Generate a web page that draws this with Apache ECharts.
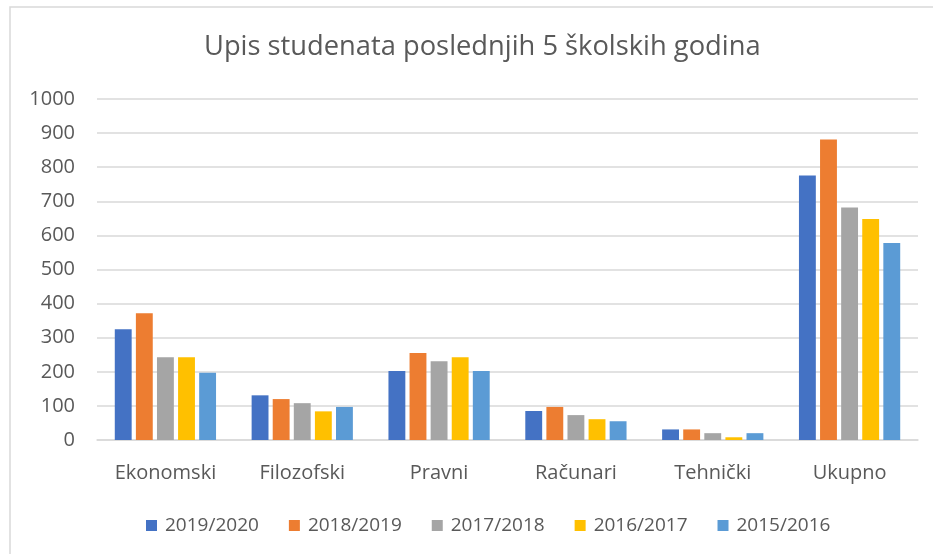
<!DOCTYPE html>
<html>
<head>
<meta charset="utf-8">
<script src="https://cdn.jsdelivr.net/npm/echarts@6/dist/echarts.min.js"></script>
<style>
  html, body { margin: 0; padding: 0; background: #fff; }
  #chart { width: 933px; height: 554px; }
</style>
</head>
<body>
<div id="chart"></div>
<script>
var categories = ['Ekonomski', 'Filozofski', 'Pravni', 'Računari', 'Tehnički', 'Ukupno'];
var years = ['2019/2020', '2018/2019', '2017/2018', '2016/2017', '2015/2016'];
var colors = ['#4472C4', '#ED7D31', '#A5A5A5', '#FFC000', '#5B9BD5'];

var v2019 = [325, 131, 202, 85, 31, 776];
var v2018 = [372, 120, 255, 97, 31, 881];
var v2017 = [243, 108, 231, 73, 20, 682];
var v2016 = [243, 84, 243, 61, 8, 648];
var v2015 = [197, 97, 202, 55, 20, 578];
var seriesValues = [v2019, v2018, v2017, v2016, v2015];

var FONT = '"Open Sans"';
var TXT = '#595959';

var chart = echarts.init(document.getElementById('chart'), null, { renderer: 'canvas' });

var series = years.map(function (y, i) {
  return {
    name: y,
    type: 'bar',
    data: seriesValues[i],
    barGap: '25%',
    barCategoryGap: '26%',
    itemStyle: { color: colors[i] }
  };
});

var option = {
  animation: false,
  backgroundColor: '#fff',
  color: colors,
  title: {
    text: 'Upis studenata poslednjih 5 školskih godina',
    left: 199,
    top: 29,
    textStyle: { fontFamily: FONT, fontSize: 27.3, fontWeight: 'normal', color: TXT }
  },
  legend: {
    data: years,
    bottom: 14,
    left: 141,
    itemWidth: 11,
    itemHeight: 11,
    itemGap: 30,
    icon: 'rect',
    textStyle: { fontFamily: FONT, fontSize: 19, color: TXT, padding: [0, 0, 0, 3] }
  },
  grid: { left: 97, right: 15, top: 99, bottom: 114 },
  xAxis: {
    type: 'category',
    data: categories,
    axisTick: { show: false },
    axisLine: { lineStyle: { color: '#d9d9d9', width: 1.5 } },
    axisLabel: { fontFamily: FONT, fontSize: 20, color: TXT, margin: 23 }
  },
  yAxis: {
    type: 'value',
    min: 0,
    max: 1000,
    interval: 100,
    axisLine: { show: false },
    axisTick: { show: false },
    splitLine: { lineStyle: { color: '#d9d9d9', width: 1.5 } },
    axisLabel: {
      fontFamily: FONT, fontSize: 20, color: TXT, margin: 22,
      formatter: function (v) { return String(v); }
    }
  },
  graphic: [{
    type: 'rect',
    shape: { x: 10, y: 7, width: 940, height: 560 },
    style: { fill: 'none', stroke: '#d9d9d9', lineWidth: 1.5 },
    silent: true
  }],
  series: series
};

chart.setOption(option);
</script>
</body>
</html>
